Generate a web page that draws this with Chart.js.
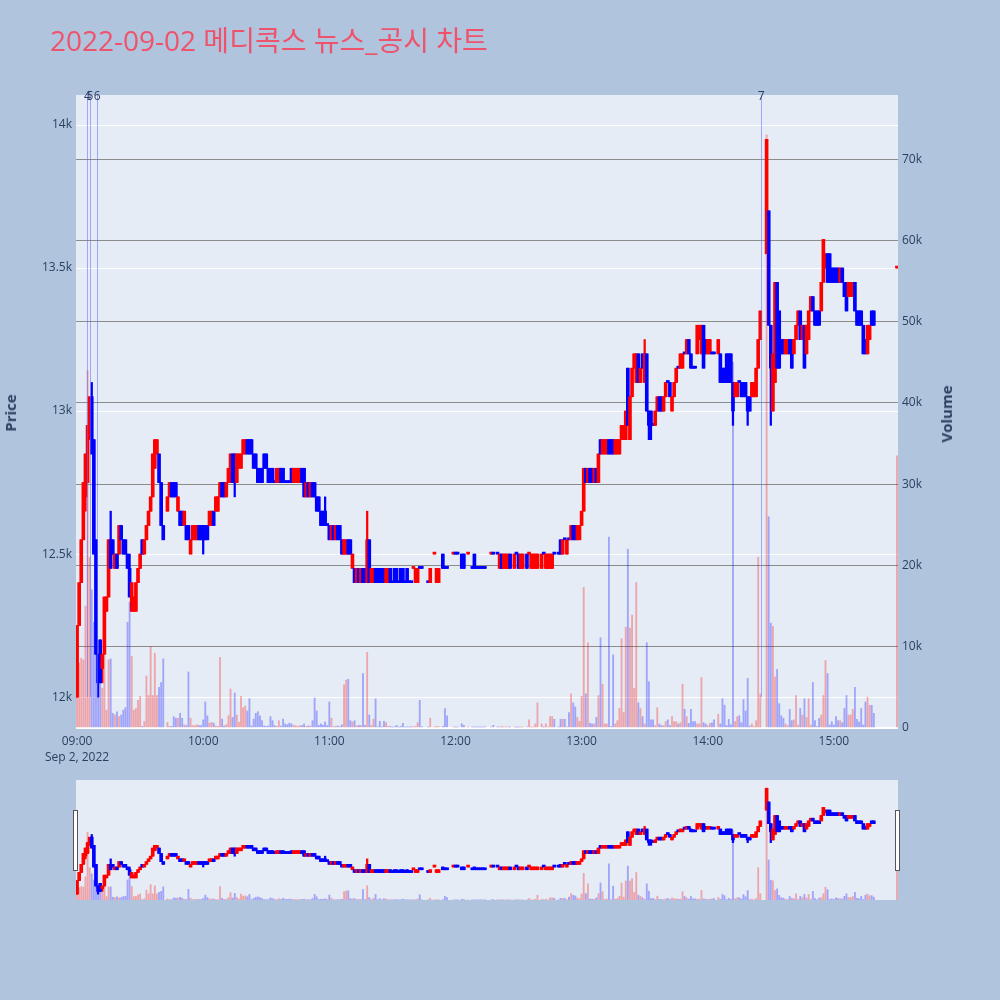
<!DOCTYPE html>
<html lang="ko">
<head>
<meta charset="utf-8">
<title>2022-09-02 메디콕스 뉴스_공시 차트</title>
<script src="https://cdn.jsdelivr.net/npm/chart.js@4.4.1/dist/chart.umd.min.js"></script>
<style>
  html, body { margin:0; padding:0; background:#B0C4DE; }
  #page { position:relative; width:1000px; height:1000px; overflow:hidden; background:#B0C4DE; }
  #mainChart { position:absolute; left:0; top:0; }
  #sliderChart { position:absolute; left:0; top:770px; }
  .txt { position:absolute; font-family:"Open Sans","Noto Sans CJK KR",sans-serif; color:#2a3f5f; white-space:nowrap; }
  #title { left:50px; top:24px; font-size:28px; line-height:32px; color:rgb(239,83,108); }
  .ytitle { font-size:15px; font-weight:bold; transform:translate(-50%,-50%) rotate(-90deg); }
</style>
</head>
<body>
<div id="page">
  <canvas id="mainChart" width="1000" height="1000"></canvas>
  <canvas id="sliderChart" width="1000" height="140"></canvas>
  <div id="title" class="txt">2022-09-02 메디콕스 뉴스_공시 차트</div>
  <div class="txt ytitle" style="left:10px;top:413px;">Price</div>
  <div class="txt ytitle" style="left:946px;top:414px;">Volume</div>
</div>
<script>
// ---------------- DATA ----------------
const times = [
 "09:00","09:01","09:02","09:03","09:04","09:05","09:06","09:07","09:08","09:09",
 "09:10","09:11","09:12","09:13","09:14","09:15","09:16","09:17","09:18","09:19",
 "09:20","09:21","09:22","09:23","09:24","09:25","09:26","09:27","09:28","09:29",
 "09:30","09:31","09:32","09:33","09:34","09:35","09:36","09:37","09:38","09:39",
 "09:40","09:41","09:43","09:44","09:45","09:46","09:47","09:48","09:49",
 "09:50","09:51","09:52","09:53","09:54","09:55","09:56","09:57","09:58","09:59",
 "10:00","10:01","10:02","10:03","10:04","10:05","10:06","10:07","10:08","10:09",
 "10:10","10:11","10:12","10:13","10:14","10:15","10:16","10:17","10:18","10:19",
 "10:20","10:21","10:22","10:23","10:24","10:25","10:26","10:27","10:28","10:29",
 "10:30","10:31","10:32","10:33","10:34","10:35","10:36","10:37","10:38","10:39",
 "10:40","10:41","10:42","10:43","10:44","10:45","10:46","10:47","10:48","10:49",
 "10:50","10:51","10:52","10:53","10:54","10:55","10:56","10:57","10:58","10:59",
 "11:00","11:01","11:02","11:03","11:04","11:05","11:06","11:07","11:08","11:09",
 "11:10","11:11","11:12","11:13","11:14","11:15","11:16","11:17","11:18","11:19",
 "11:20","11:21","11:22","11:23","11:24","11:25","11:26","11:27","11:28","11:29",
 "11:30","11:31","11:32","11:33","11:34","11:35","11:36","11:37","11:38","11:39",
 "11:40","11:41","11:42","11:43","11:44","11:47","11:48",
 "11:50","11:51","11:52","11:54","11:55","11:56","11:59",
 "12:00","12:01","12:03","12:04","12:06","12:08","12:09",
 "12:10","12:11","12:12","12:13","12:14","12:17","12:18",
 "12:20","12:21","12:22","12:23","12:24","12:25","12:26",
 "12:28","12:29","12:30","12:31","12:32",
 "12:34","12:35","12:36","12:37","12:38","12:39",
 "12:41","12:42","12:43","12:44","12:45","12:46","12:47",
 "12:49","12:50","12:51","12:52","12:53","12:54","12:55","12:56","12:57","12:58","12:59",
 "13:00","13:01","13:02","13:03","13:04","13:05","13:06","13:07","13:08","13:09",
 "13:10","13:11","13:12","13:13","13:14","13:15","13:16","13:17","13:18","13:19",
 "13:20","13:21","13:22","13:23","13:24","13:25","13:26","13:27","13:28","13:29",
 "13:30","13:31","13:32","13:33","13:34","13:35","13:36","13:37","13:38","13:39",
 "13:40","13:41","13:42","13:43","13:44","13:45","13:46","13:47","13:48","13:49",
 "13:50","13:51","13:52","13:53","13:54","13:55","13:56","13:57","13:58","13:59",
 "14:00","14:01","14:02","14:03","14:05","14:06","14:07","14:08","14:09",
 "14:10","14:11","14:12","14:13","14:14","14:15","14:16","14:17","14:18","14:19",
 "14:20","14:21","14:22","14:23","14:24","14:25","14:28","14:29",
 "14:30","14:31","14:32","14:33","14:34","14:35","14:36","14:37","14:38","14:39",
 "14:40","14:41","14:42","14:43","14:44","14:45","14:46","14:47","14:48","14:49",
 "14:50","14:51","14:52","14:53","14:54","14:55","14:56","14:57","14:58","14:59",
 "15:00","15:01","15:02","15:03","15:04","15:05","15:06","15:07","15:08","15:09",
 "15:10","15:11","15:12","15:13","15:14","15:15","15:16","15:17","15:18","15:19",
 "15:30"
];
const opens = [
 12000,12250,12400,12550,12700,12750,12900,13050,12900,12550,
 12150,12200,12100,12150,12300,12350,12550,12550,12450,12500,
 12500,12600,12550,12550,12500,12450,12300,12300,12300,12400,
 12450,12550,12500,12550,12600,12650,12700,12800,12850,12850,
 12750,12600,12650,12700,12750,12750,12750,12650,12650,
 12650,12600,12600,12600,12500,12550,12550,12550,12600,12600,
 12600,12600,12600,12600,12600,12650,12650,12650,12700,12750,
 12750,12700,12750,12750,12850,12850,12750,12800,12800,12850,
 12850,12900,12900,12900,12850,12850,12800,12800,12800,12850,
 12850,12800,12800,12800,12750,12750,12750,12800,12800,12750,
 12750,12750,12800,12750,12750,12750,12750,12800,12800,12700,
 12750,12700,12750,12750,12700,12700,12650,12650,12650,12600,
 12600,12550,12600,12550,12600,12600,12550,12500,12500,12550,
 12550,12450,12450,12400,12450,12400,12450,12450,12400,12550,
 12400,12400,12450,12450,12450,12450,12450,12400,12400,12450,
 12400,12450,12450,12400,12450,12450,12400,12450,12400,12400,
 12450,12400,12400,12450,12450,12400,12400,
 12500,12400,12400,12500,12450,12450,12500,
 12500,12500,12500,12500,12500,12450,12500,
 12450,12450,12450,12450,12450,12500,12500,
 12500,12450,12500,12450,12450,12450,12500,
 12450,12500,12500,12450,12450,
 12500,12500,12450,12450,12450,12450,
 12450,12500,12450,12450,12450,12450,12500,
 12500,12550,12500,12550,12500,12550,12550,12600,12600,12550,12550,
 12600,12650,12800,12750,12800,12800,12750,12800,12750,12900,
 12850,12850,12850,12900,12900,12900,12850,12850,12850,12900,
 12900,12900,13150,12900,13050,13150,13100,13200,13100,13200,
 13100,13200,13000,13000,12950,12950,13000,13050,13050,13000,
 13050,13100,13100,13000,13050,13100,13150,13150,13150,13200,
 13200,13250,13200,13150,13150,13200,13250,13200,13300,13250,
 13200,13200,13200,13200,13200,13200,13150,13150,13200,
 13200,13200,13100,13050,13050,13100,13100,13100,13100,13050,
 13050,13050,13050,13050,13150,13250,13550,13700,
 13300,13000,13100,13450,13350,13250,13250,13200,13200,13250,
 13250,13200,13250,13300,13350,13250,13300,13200,13250,13350,
 13400,13350,13350,13350,13350,13450,13500,13550,13550,13500,
 13500,13500,13500,13450,13500,13450,13450,13400,13400,13400,
 13450,13350,13350,13350,13300,13250,13200,13250,13350,13350,
 13500
];
const highs = [
 12250,12400,12550,12750,12850,12950,13050,13100,12900,12550,
 12150,12200,12150,12350,12350,12550,12650,12550,12500,12500,
 12600,12600,12550,12550,12500,12500,12400,12350,12400,12450,
 12500,12550,12550,12600,12650,12700,12850,12900,12900,12850,
 12750,12600,12700,12750,12750,12750,12750,12700,12650,
 12650,12650,12600,12600,12550,12600,12600,12600,12600,12600,
 12600,12600,12600,12650,12650,12650,12700,12700,12750,12750,
 12750,12750,12800,12850,12850,12850,12850,12850,12850,12900,
 12900,12900,12900,12900,12850,12850,12800,12800,12800,12850,
 12850,12800,12800,12800,12750,12800,12800,12800,12800,12750,
 12750,12750,12800,12800,12800,12800,12800,12800,12800,12750,
 12750,12750,12750,12750,12700,12700,12650,12650,12700,12600,
 12600,12600,12600,12600,12600,12600,12550,12550,12550,12550,
 12550,12500,12450,12450,12450,12450,12450,12450,12650,12550,
 12450,12450,12450,12450,12450,12450,12450,12450,12450,12450,
 12400,12450,12450,12400,12450,12450,12400,12450,12400,12400,
 12450,12450,12450,12450,12450,12400,12450,
 12500,12450,12450,12500,12450,12450,12500,
 12500,12500,12500,12500,12500,12450,12500,
 12450,12450,12450,12450,12450,12500,12500,
 12500,12500,12500,12500,12500,12500,12500,
 12500,12500,12500,12500,12500,
 12500,12500,12500,12500,12500,12500,
 12500,12500,12500,12500,12500,12500,12500,
 12500,12550,12550,12550,12550,12550,12600,12600,12600,12600,12600,
 12650,12800,12800,12800,12800,12800,12800,12800,12850,12900,
 12900,12900,12900,12900,12900,12900,12900,12900,12900,12950,
 12950,13000,13150,13050,13150,13200,13200,13200,13150,13200,
 13250,13200,13000,13000,12950,13000,13050,13050,13050,13050,
 13100,13100,13100,13050,13100,13150,13150,13200,13200,13200,
 13250,13250,13200,13150,13150,13300,13300,13300,13300,13250,
 13250,13250,13200,13200,13250,13200,13150,13150,13200,
 13200,13200,13100,13100,13100,13100,13100,13100,13100,13050,
 13050,13100,13100,13150,13250,13350,13950,13700,
 13300,13200,13450,13450,13350,13250,13250,13250,13250,13250,
 13250,13250,13300,13350,13350,13300,13300,13300,13350,13400,
 13400,13350,13350,13350,13450,13600,13550,13550,13550,13500,
 13500,13500,13500,13500,13500,13450,13450,13450,13450,13450,
 13450,13350,13350,13350,13300,13250,13300,13300,13350,13350,
 13500
];
const lows = [
 12000,12250,12400,12550,12650,12750,12900,12850,12500,12150,
 12000,12050,12050,12150,12300,12350,12450,12500,12450,12450,
 12500,12550,12500,12500,12450,12350,12300,12300,12300,12400,
 12450,12500,12500,12550,12600,12650,12700,12800,12850,12750,
 12600,12550,12650,12700,12700,12700,12700,12650,12600,
 12600,12600,12550,12550,12500,12550,12550,12550,12550,12550,
 12500,12550,12550,12600,12600,12600,12650,12650,12700,12700,
 12700,12700,12750,12750,12750,12700,12750,12800,12800,12850,
 12850,12850,12850,12850,12800,12800,12750,12750,12750,12800,
 12800,12750,12750,12750,12750,12750,12750,12750,12750,12750,
 12750,12750,12750,12750,12750,12750,12750,12750,12700,12700,
 12700,12700,12700,12700,12650,12650,12600,12600,12600,12600,
 12550,12550,12550,12550,12550,12550,12500,12500,12500,12500,
 12500,12450,12400,12400,12400,12400,12400,12400,12400,12400,
 12400,12400,12400,12400,12400,12400,12400,12400,12400,12400,
 12400,12400,12400,12400,12400,12400,12400,12400,12400,12400,
 12450,12400,12400,12450,12450,12400,12400,
 12500,12400,12400,12450,12450,12450,12500,
 12500,12500,12450,12450,12500,12450,12450,
 12450,12450,12450,12450,12450,12500,12500,
 12500,12450,12450,12450,12450,12450,12450,
 12450,12500,12450,12450,12450,
 12450,12500,12450,12450,12450,12450,
 12450,12500,12450,12450,12450,12450,12500,
 12500,12500,12500,12550,12500,12550,12550,12550,12550,12550,12550,
 12600,12650,12750,12750,12750,12750,12750,12750,12750,12850,
 12850,12850,12850,12850,12850,12850,12850,12850,12850,12900,
 12900,12900,12950,12900,13050,13150,13100,13100,13100,13150,
 13100,13000,12900,12900,12950,12950,13000,13000,13000,13000,
 13050,13100,13050,13000,13050,13100,13150,13150,13150,13200,
 13200,13200,13150,13150,13150,13200,13250,13200,13150,13200,
 13200,13200,13200,13200,13200,13100,13100,13100,13100,
 13100,13100,12950,13050,13050,13100,13050,13050,13050,12950,
 13000,13050,13050,13050,13150,13250,13550,13300,
 12950,13000,13100,13150,13150,13200,13200,13200,13200,13200,
 13150,13200,13250,13300,13250,13250,13150,13200,13250,13350,
 13350,13300,13300,13300,13350,13450,13500,13450,13450,13450,
 13450,13450,13450,13450,13450,13400,13350,13400,13400,13400,
 13350,13300,13300,13300,13200,13200,13200,13250,13300,13300,
 13500
];
const closes = [
 12250,12400,12550,12750,12850,12950,13050,12850,12500,12150,
 12050,12050,12150,12350,12350,12550,12450,12500,12500,12450,
 12600,12550,12500,12500,12450,12350,12400,12350,12400,12450,
 12500,12500,12550,12600,12650,12700,12850,12900,12900,12750,
 12600,12550,12700,12750,12700,12700,12700,12700,12600,
 12600,12650,12550,12550,12550,12600,12600,12600,12550,12550,
 12550,12550,12550,12650,12650,12600,12700,12700,12750,12700,
 12700,12750,12800,12850,12750,12750,12850,12850,12850,12900,
 12900,12850,12850,12850,12800,12800,12750,12750,12750,12800,
 12800,12750,12750,12750,12750,12800,12800,12750,12750,12750,
 12750,12750,12750,12800,12800,12800,12800,12750,12700,12750,
 12700,12750,12700,12700,12650,12650,12600,12600,12600,12600,
 12550,12600,12550,12600,12550,12550,12500,12550,12550,12500,
 12500,12500,12400,12450,12400,12450,12400,12400,12550,12400,
 12450,12450,12400,12400,12400,12400,12400,12450,12450,12400,
 12400,12400,12400,12400,12400,12400,12400,12400,12400,12400,
 12450,12450,12450,12450,12450,12400,12450,
 12500,12450,12450,12450,12450,12450,12500,
 12500,12500,12450,12450,12500,12450,12450,
 12450,12450,12450,12450,12450,12500,12500,
 12500,12500,12450,12500,12500,12500,12450,
 12500,12500,12450,12500,12500,
 12450,12500,12500,12500,12500,12500,
 12500,12500,12500,12500,12500,12500,12500,
 12500,12500,12550,12550,12550,12550,12600,12550,12550,12600,12600,
 12650,12800,12750,12800,12750,12750,12800,12750,12850,12850,
 12900,12900,12900,12850,12850,12850,12900,12900,12900,12950,
 12950,13000,12950,13050,13150,13200,13200,13100,13150,13150,
 13200,13000,12950,12950,12950,13000,13050,13000,13000,13050,
 13100,13100,13050,13050,13100,13150,13150,13200,13200,13200,
 13250,13200,13150,13150,13150,13300,13300,13300,13150,13200,
 13250,13250,13200,13200,13250,13100,13100,13100,13100,
 13100,13100,13000,13100,13100,13100,13050,13050,13050,13000,
 13000,13100,13100,13150,13250,13350,13950,13300,
 13150,13200,13450,13150,13150,13200,13200,13250,13250,13200,
 13150,13250,13300,13350,13250,13300,13150,13300,13350,13400,
 13350,13300,13300,13300,13450,13600,13550,13450,13450,13450,
 13450,13450,13450,13500,13450,13400,13350,13450,13450,13450,
 13350,13300,13300,13300,13200,13200,13300,13300,13300,13300,
 13500
];
const volumes = [
 12000,8000,8600,8400,15000,44000,21000,17000,13000,13000,
 9000,7000,4900,16000,2200,8400,8500,1800,1600,2000,
 1400,1600,2200,2500,13000,15500,8800,2200,2400,3400,
 3900,200,800,6400,4000,10000,4000,9200,4000,5000,
 5600,8500,700,200,200,1400,1200,1200,1800,
 1200,400,300,6900,1200,300,300,400,300,300,
 1000,3200,1500,600,700,600,250,200,8700,1100,
 250,400,1500,4800,1300,4300,1600,700,3900,2500,
 2700,2100,3600,250,1100,1800,2000,1500,900,250,
 200,250,1400,900,300,200,900,250,1100,500,
 400,600,500,300,300,200,300,300,500,200,
 250,250,900,3700,2100,330,500,370,740,300,
 3200,1200,160,200,250,160,400,5300,5900,6000,
 900,740,900,250,330,330,6700,330,9300,1600,
 330,1100,3600,160,820,160,820,660,200,200,
 100,150,330,100,200,570,100,150,100,160,
 100,200,660,3400,160,100,1200,
 100,200,160,200,2400,1500,100,
 100,100,530,330,100,100,150,
 100,100,100,100,160,100,330,
 100,150,160,100,100,160,100,
 100,100,100,100,100,
 150,1000,100,100,500,3100,
 500,100,500,100,1400,1400,1070,
 100,1070,1070,1070,160,1900,4200,3100,2600,1300,820,
 3900,17300,4200,10500,570,500,500,1300,4000,11100,
 5400,500,500,23500,160,9000,500,900,2400,11000,
 1900,12400,22000,12300,13900,4900,17900,3100,2400,1400,
 500,10500,5700,1000,1000,300,2500,500,300,300,
 800,1000,300,1400,800,780,500,650,5400,2300,
 1400,570,2300,780,780,500,500,6200,650,500,
 300,570,650,1000,1700,500,3600,2800,300,
 1070,400,45000,800,1400,1500,650,3500,2100,6100,
 250,500,160,900,21000,4200,73000,26000,
 12900,12500,6300,7200,3000,1500,1200,500,300,2300,
 900,1000,4000,370,2400,1600,3600,1300,3600,370,
 5600,900,160,1200,1600,4000,8300,6700,370,780,
 370,1400,900,900,650,2400,4000,1600,1600,2300,
 5000,1070,740,2400,370,3200,3800,2800,2800,1800,
 33500
];

const xRange = ["08:59:30", "15:30:30"];
const priceRange = [11892, 14105];
const volumeRange = [0, 77900];
const timeTicks = ["09:00","10:00","11:00","12:00","13:00","14:00","15:00"];
const dateLabel = "Sep 2, 2022";
const priceTicks = [12000, 12500, 13000, 13500, 14000];
const priceTickLabels = ["12k","12.5k","13k","13.5k","14k"];
const volumeTicks = [0,10000,20000,30000,40000,50000,60000,70000];
const volumeTickLabels = ["0","10k","20k","30k","40k","50k","60k","70k"];
const newsTimes = ["09:04:53","09:06:10","09:09:38","14:25:24"];
const newsLabels = ["4","5","6","7"];
const newsLineFloor = 12000;

// ---------------- RENDER ----------------
const TICK = '#2a3f5f';
const PLOT_BG = '#E5ECF6';
Chart.defaults.font.family = '"Open Sans", "Noto Sans CJK KR", sans-serif';

function toMin(t) {
  const p = t.split(':').map(Number);
  return (p[0] - 9) * 60 + p[1] + (p[2] || 0) / 60;
}

function buildDatasets(s) {
  const xs = times.map(toMin);
  const up = closes.map((c, i) => c > opens[i] || (c === opens[i] && i > 0 && c > closes[i - 1]));
  const solid = up.map(u => u ? '#FF0000' : '#0000FF');
  const light = up.map(u => u ? 'rgba(255,0,0,0.3)' : 'rgba(0,0,255,0.3)');
  return [
    { type:'bar', label:'wick', yAxisID:'y', order:3, grouped:false,
      data: xs.map((x, i) => ({ x, y:[lows[i], highs[i]] })),
      backgroundColor: solid, barThickness: s.wick, minBarLength: 1 },
    { type:'bar', label:'body', yAxisID:'y', order:2, grouped:false,
      data: xs.map((x, i) => ({ x, y:[Math.min(opens[i], closes[i]), Math.max(opens[i], closes[i])] })),
      backgroundColor: solid, barThickness: s.body, minBarLength: 2 },
    { type:'bar', label:'volume', yAxisID:'yv', order:1, grouped:false,
      data: xs.map((x, i) => ({ x, y: volumes[i] })),
      backgroundColor: light, barThickness: s.vol }
  ];
}

const bgPlugin = {
  id: 'plotBg',
  beforeDraw(c) {
    const a = c.chartArea, ctx = c.ctx;
    ctx.save();
    ctx.fillStyle = PLOT_BG;
    ctx.fillRect(a.left, a.top, a.right - a.left, a.bottom - a.top);
    ctx.restore();
  }
};

const newsPlugin = {
  id: 'newsLines',
  afterDatasetsDraw(c) {
    const ctx = c.ctx, xs = c.scales.x, ys = c.scales.y, a = c.chartArea;
    ctx.save();
    ctx.strokeStyle = 'rgba(99,110,250,0.55)';
    ctx.lineWidth = 1;
    newsTimes.forEach(t => {
      const px = Math.round(xs.getPixelForValue(toMin(t))) + 0.5;
      ctx.beginPath();
      ctx.moveTo(px, ys.getPixelForValue(newsLineFloor));
      ctx.lineTo(px, a.top);
      ctx.stroke();
    });
    ctx.fillStyle = TICK;
    ctx.font = '12px "Open Sans", sans-serif';
    ctx.textAlign = 'center';
    ctx.textBaseline = 'middle';
    newsTimes.forEach((t, i) => {
      ctx.fillText(newsLabels[i], xs.getPixelForValue(toMin(t)), a.top + 2);
    });
    ctx.restore();
  }
};

const handlesPlugin = {
  id: 'sliderHandles',
  afterDraw(c) {
    const a = c.chartArea, ctx = c.ctx;
    const h = 60, top = a.top + (a.bottom - a.top - h) / 2;
    ctx.save();
    ctx.fillStyle = '#ffffff';
    ctx.strokeStyle = '#555555';
    ctx.lineWidth = 1;
    [a.left, a.right].forEach(xp => {
      ctx.fillRect(Math.round(xp) - 2.5, Math.round(top) + 0.5, 4, h);
      ctx.strokeRect(Math.round(xp) - 2.5, Math.round(top) + 0.5, 4, h);
    });
    ctx.restore();
  }
};

const tickFont = { size: 12, lineHeight: 1.35 };

new Chart(document.getElementById('mainChart'), {
  type: 'bar',
  data: { datasets: buildDatasets({ wick: 1.6, body: 3, vol: 1.2 }) },
  options: {
    responsive: false, animation: false, events: [],
    layout: { padding: { top: 95, left: 0, right: 0, bottom: 0 } },
    plugins: { legend: { display: false }, tooltip: { enabled: false }, title: { display: false } },
    scales: {
      x: {
        type: 'linear', position: 'bottom', offset: false,
        min: toMin(xRange[0]), max: toMin(xRange[1]),
        afterBuildTicks: s => { s.ticks = timeTicks.map(t => ({ value: toMin(t) })); },
        afterFit: s => { s.height = 272; },
        grid: { display: false, drawTicks: false, offset: false },
        border: { display: false },
        ticks: {
          autoSkip: false, maxRotation: 0, minRotation: 0, padding: 5, color: TICK, font: tickFont,
          callback: (v, i) => i === 0 ? [timeTicks[0], dateLabel] : timeTicks[i]
        }
      },
      y: {
        type: 'linear', position: 'left',
        min: priceRange[0], max: priceRange[1],
        afterBuildTicks: s => { s.ticks = priceTicks.map(v => ({ value: v })); },
        afterFit: s => { s.width = 76; },
        grid: { color: '#ffffff', lineWidth: 1, drawTicks: false },
        border: { display: false },
        ticks: { padding: 4, color: TICK, font: { size: 12 }, callback: (v, i) => priceTickLabels[i] }
      },
      yv: {
        type: 'linear', position: 'right',
        min: volumeRange[0], max: volumeRange[1],
        afterBuildTicks: s => { s.ticks = volumeTicks.map(v => ({ value: v })); },
        afterFit: s => { s.width = 102; },
        grid: {
          color: c => (c.tick && c.tick.value === 0) ? '#ffffff' : '#8c8c8c',
          lineWidth: c => (c.tick && c.tick.value === 0) ? 2 : 1,
          drawTicks: false
        },
        border: { display: false },
        ticks: { padding: 4, color: TICK, font: { size: 12 }, callback: (v, i) => volumeTickLabels[i] }
      }
    }
  },
  plugins: [bgPlugin, newsPlugin]
});

new Chart(document.getElementById('sliderChart'), {
  type: 'bar',
  data: { datasets: buildDatasets({ wick: 1.6, body: 3, vol: 1.2 }) },
  options: {
    responsive: false, animation: false, events: [],
    layout: { padding: { top: 10, left: 76, right: 102, bottom: 10 } },
    plugins: { legend: { display: false }, tooltip: { enabled: false } },
    scales: {
      x: { type: 'linear', display: false, offset: false, min: toMin(xRange[0]), max: toMin(xRange[1]) },
      y: { type: 'linear', display: false, min: priceRange[0], max: priceRange[1] },
      yv: { type: 'linear', display: false, position: 'right', min: volumeRange[0], max: volumeRange[1] }
    }
  },
  plugins: [bgPlugin, handlesPlugin]
});
</script>
</body>
</html>
